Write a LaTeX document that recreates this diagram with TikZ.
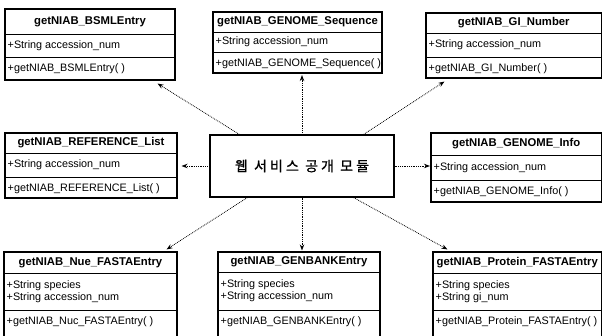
\documentclass[tikz,border=0pt]{standalone}
\usepackage{fontspec}
\setmainfont{Liberation Sans}
\newfontfamily\kofont[LetterSpace=22, FakeBold=1]{Noto Sans CJK KR}
\usetikzlibrary{arrows.meta,calc}

\tikzset{
  frame/.style={draw, line width=1.1pt, inner sep=0pt},
  rowline/.style={line width=0.9pt},
  classtitle/.style={font=\fontsize{11.3}{12.5}\selectfont\bfseries, inner sep=0pt},
  member/.style={font=\fontsize{10.8}{11.6}\selectfont, inner sep=0pt, anchor=west, align=left},
  link/.style={densely dotted, line width=0.8pt, -{Stealth[length=6pt,width=4.5pt]}},
}

% #1 name, #2 left, #3 top, #4 right, #5 title bottom, #6 attribute bottom, #7 bottom
\newcommand\umlclass[7]{%
  \node[frame, minimum width={#4-#2}, minimum height={#7-#3}] (#1) at ({(#2+#4)/2},{(#3+#7)/2}) {};
  \draw[rowline] (#2,#5) -- (#4,#5) (#2,#6) -- (#4,#6);
  \coordinate (#1-t) at ({(#2+#4)/2},{(#3+#5)/2});
  \coordinate (#1-a) at ({#2+2.5},{(#5+#6)/2});
  \coordinate (#1-m) at ({#2+2.5},{#6+11.5});
}
% #1 name, #2 class name, #3 attributes, #4 operation
\newcommand\classtext[4]{%
  \node[classtitle] (#1-title) at (#1-t) {#2};
  \node[member] (#1-attrs) at (#1-a) {#3};
  \node[member] (#1-meth) at (#1-m) {#4};
}

\begin{document}
\begin{tikzpicture}[x=1pt,y=-1pt]
\useasboundingbox (0,0) rectangle (603,336);

% central module
\node[frame, minimum width=184, minimum height=62] (hub) at (302,166)
  {\kofont\fontsize{14}{16}\selectfont 웹 서비스 공개 모듈};

% top row
\umlclass{bsml}{5}{9}{175}{34}{57}{80}
\classtext{bsml}{getNIAB\_BSMLEntry}{+String accession\_num}{+getNIAB\_BSMLEntry( )}

\umlclass{seq}{213}{12}{382}{32}{52}{73}
\classtext{seq}{getNIAB\_GENOME\_Sequence}{+String accession\_num}{+getNIAB\_GENOME\_Sequence( )}

\umlclass{gi}{426}{13}{601.5}{33}{57}{78}
\classtext{gi}{getNIAB\_GI\_Number}{+String accession\_num}{+getNIAB\_GI\_Number( )}

% middle row
\umlclass{ref}{5}{133}{177}{153}{177}{198}
\classtext{ref}{getNIAB\_REFERENCE\_List}{+String accession\_num}{+getNIAB\_REFERENCE\_List( )}

\umlclass{info}{431}{133}{601.5}{155}{180}{202}
\classtext{info}{getNIAB\_GENOME\_Info}{+String accession\_num}{+getNIAB\_GENOME\_Info( )}

% bottom row
\umlclass{nue}{4}{252}{177}{273}{310}{340}
\classtext{nue}{getNIAB\_Nue\_FASTAEntry}{+String species\\+String accession\_num}{+getNIAB\_Nuc\_FASTAEntry( )}

\umlclass{gb}{218}{252}{380}{272}{310}{340}
\classtext{gb}{getNIAB\_GENBANKEntry}{+String species\\+String accession\_num}{+getNIAB\_GENBANKEntry( )}

\umlclass{prot}{433}{252}{601.5}{273}{310}{340}
\classtext{prot}{getNIAB\_Protein\_FASTAEntry}{+String species\\+String gi\_num}{+getNIAB\_Protein\_FASTAEntry( )}

% connectors from the module to each service class
\draw[link] ($(hub.north west)+(30,0)$) -- ($(bsml.south east)+(-18,3)$);
\draw[link] (hub.north) -- ($(hub.north |- seq.south)+(0,1.5)$);
\draw[link] ($(hub.north east)+(-31,0)$) -- ($(gi.south west)+(19,3)$);
\draw[link] (hub.west) -- ($(hub.west -| ref.east)+(4,0)$);
\draw[link] (hub.east) -- ($(hub.east -| info.west)+(-0.5,0)$);
\draw[link] ($(hub.south west)+(38,0)$) -- ($(nue.north east)+(-11,-2)$);
\draw[link] (hub.south) -- ($(hub.south |- gb.north)+(0,-1)$);
\draw[link] ($(hub.south east)+(-41,0)$) -- ($(prot.north west)+(15,-2)$);
\end{tikzpicture}
\end{document}
